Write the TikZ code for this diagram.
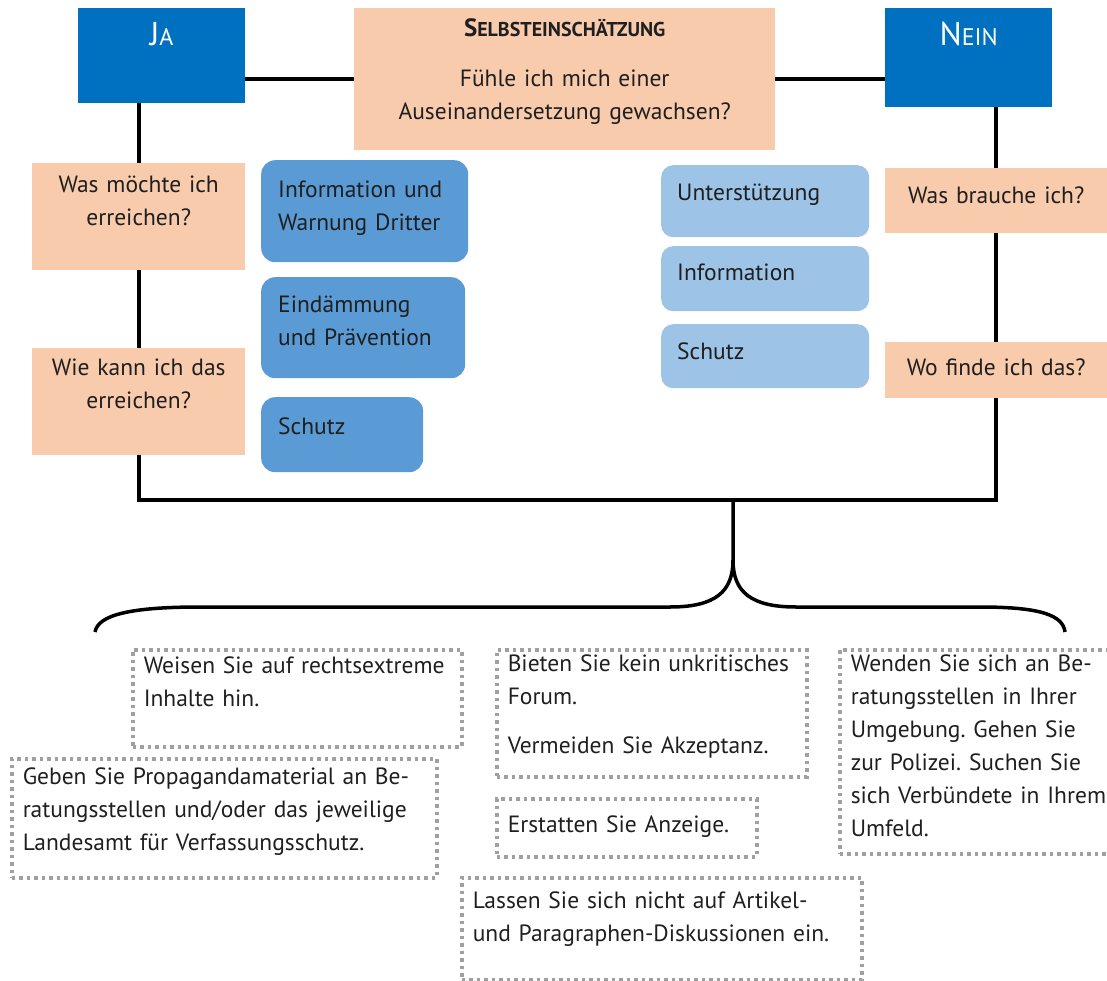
\documentclass[tikz,border=0pt]{standalone}
\usepackage{fontspec}
\setmainfont{PT Sans}
\usepackage{xcolor}
\usepackage{tikz}
\usetikzlibrary{calc}
\frenchspacing

\definecolor{jablue}{HTML}{0070C0}
\definecolor{mittelblau}{HTML}{5B9BD5}
\definecolor{hellblau}{HTML}{9DC3E6}
\definecolor{lachs}{HTML}{F8CBAD}
\definecolor{punktgrau}{HTML}{A0A0A0}
\newcommand{\kap}[2]{{\fontsize{#1}{#1}\selectfont #2}}

\begin{document}
\begin{tikzpicture}[
  x=1pt, y=-1pt,
  every node/.style={font=\fontsize{23.5}{33}\selectfont, text=black!88,
    anchor=north west, inner ysep=0pt, inner xsep=0pt},
  head/.style={fill=jablue, text=white, minimum width=167pt, text height=37pt,
    font=\fontsize{33}{33}\selectfont},
  frage/.style={fill=lachs, align=center},
  ziel/.style={fill=mittelblau, rounded corners=14pt, inner xsep=17pt, align=left},
  hilfe/.style={fill=hellblau, rounded corners=12pt, inner xsep=16pt, align=left},
  tipp/.style={draw=punktgrau, line width=3.5pt, dash pattern=on 3.5pt off 4pt,
    inner xsep=11pt, align=left},
  link/.style={line width=4pt, black},
]
\useasboundingbox (0,0) rectangle (1107,981);

% --- Kopfzeile: Ja / Selbsteinschaetzung / Nein
\node[head, text depth=58pt] (ja) at (78,8) {J\kap{24}{A}};
\node[head, text depth=62pt] (nein) at (885,8) {N\kap{24}{EIN}};
\node[frage, text width=421pt, text height=28pt, text depth=114pt] (selbst) at (354,8)
  {{\bfseries\fontsize{25}{25}\selectfont S\kap{20}{ELBSTEINSCHÄTZUNG}}\\[17pt]
   Fühle ich mich einer\\Auseinandersetzung gewachsen?};
\draw[link] (selbst.west) -- (selbst.west -| ja.east);
\draw[link] (selbst.east) -- (selbst.east -| nein.west);

% --- linke Seite (Ja)
\node[frage, text width=213pt, text height=29pt, text depth=78pt] (was) at (32,163)
  {Was möchte ich\\erreichen?};
\node[frage, text width=213pt, text height=27pt, text depth=80pt] (wie) at (32,348)
  {Wie kann ich das\\erreichen?};
\node[ziel, text width=173pt, text height=37pt, text depth=65pt] (warnung) at (261,160)
  {Information und\\Warnung Dritter};
\node[ziel, text width=170pt, text height=35pt, text depth=66pt] (praevention) at (261,277)
  {Eindämmung\\und Prävention};
\node[ziel, text width=128pt, text height=37pt, text depth=38pt] (schutzA) at (261,397)
  {Schutz};

% --- rechte Seite (Nein)
\node[frage, text width=222pt, text height=35pt, text depth=30pt] (brauche) at (885,168)
  {Was brauche ich?};
\node[frage, text width=222pt, text height=33pt, text depth=23pt] (wo) at (885,342)
  {Wo finde ich das?};
\node[hilfe, text width=176pt, text height=35pt, text depth=37pt] (unterstuetzung) at (661,165)
  {Unterstützung};
\node[hilfe, text width=176pt, text height=34pt, text depth=31pt] (info) at (661,246)
  {Information};
\node[hilfe, text width=176pt, text height=35pt, text depth=29pt] (schutzB) at (661,324)
  {Schutz};

% --- Rahmenlinien
\coordinate (knot) at (733,500);
\coordinate (spitze) at (733,560);
\draw[link] (was.north |- ja.south) -- (was.north);
\draw[link] (was.south) -- (wie.north);
\draw[link] (brauche.north |- nein.south) -- (brauche.north);
\draw[link] (brauche.south) -- (wo.north);
\draw[link] (wie.south) -- (wie.south |- knot) -- (wo.south |- knot) -- (wo.south);

% --- Klammer
\draw[line width=3.5pt] (knot) -- (spitze)
  .. controls (733,592) and (715,607) .. (670,607) -- (200,607)
  .. controls (130,607) and (98,615) .. (95,632);
\draw[line width=3.5pt] (spitze)
  .. controls (733,592) and (751,607) .. (796,607) -- (980,607)
  .. controls (1040,607) and (1063,615) .. (1065,632);

% --- Handlungstipps
\node[tipp, text width=307pt, text height=24pt, text depth=73pt] (hinweis) at (131,648)
  {Weisen Sie auf rechtsextreme\\Inhalte hin.};
\node[tipp, text width=403pt, text height=26pt, text depth=93pt] (material) at (10,757)
  {Geben Sie Propagandamaterial an Be-\\ratungsstellen und/oder das jeweilige\\Landesamt für Verfassungsschutz.};
\node[tipp, text width=288pt, text height=22pt, text depth=105pt] (forum) at (495,648)
  {Bieten Sie kein unkritisches\\Forum.\\[16pt]Vermeiden Sie Akzeptanz.};
\node[tipp, text width=238pt, text height=34pt, text depth=24pt] (anzeige) at (495,797)
  {Erstatten Sie Anzeige.};
\node[tipp, text width=378pt, text height=31pt, text depth=71pt] (diskussion) at (460,876)
  {Lassen Sie sich nicht auf Artikel-\\und Paragraphen-Diskussionen ein.};
\node[tipp, text width=262pt, text height=22pt, text depth=182pt] (beratung) at (838,648)
  {Wenden Sie sich an Be-\\ratungsstellen in Ihrer\\Umgebung. Gehen Sie\\zur Polizei. Suchen Sie\\sich Verbündete in Ihrem\\Umfeld.};
\end{tikzpicture}
\end{document}
